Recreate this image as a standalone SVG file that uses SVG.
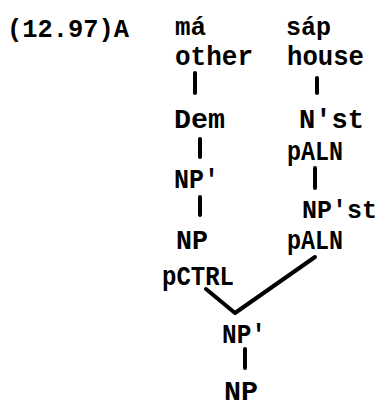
<svg xmlns="http://www.w3.org/2000/svg" width="384" height="407" viewBox="0 0 384 407">
<style>
text{font-family:"Liberation Mono","DejaVu Sans Mono",monospace;font-weight:bold;font-size:28px;fill:#000}
.t{font-size:26px}
.s{font-size:25px}
.c{stroke:#000;stroke-width:4;fill:none;stroke-linecap:round;stroke-linejoin:round}
</style>
<rect width="384" height="407" fill="#fff"/>
<g id="title"><text class="t" x="7" y="37" textLength="122" lengthAdjust="spacingAndGlyphs">(12.97)A</text></g>
<g id="ma"><text class="s" x="175" y="35" textLength="31" lengthAdjust="spacingAndGlyphs">má</text></g>
<g id="sap"><text class="s" x="286" y="35" textLength="45" lengthAdjust="spacingAndGlyphs">sáp</text></g>
<g id="other"><text x="175" y="65" textLength="78" lengthAdjust="spacingAndGlyphs">other</text></g>
<g id="house"><text x="287" y="65" textLength="77" lengthAdjust="spacingAndGlyphs">house</text></g>
<g id="dem"><text x="174" y="128" textLength="51" lengthAdjust="spacingAndGlyphs">Dem</text></g>
<g id="nst"><text x="299" y="128" textLength="65" lengthAdjust="spacingAndGlyphs">N'st</text></g>
<g id="paln1"><text x="287" y="160" textLength="56" lengthAdjust="spacingAndGlyphs">pALN</text></g>
<g id="npbar1"><text x="174" y="188" textLength="45" lengthAdjust="spacingAndGlyphs">NP'</text></g>
<g id="npst"><text class="s" x="302" y="218" textLength="75" lengthAdjust="spacingAndGlyphs">NP'st</text></g>
<g id="np1"><text x="176" y="249" textLength="32" lengthAdjust="spacingAndGlyphs">NP</text></g>
<g id="paln2"><text x="287" y="249" textLength="56" lengthAdjust="spacingAndGlyphs">pALN</text></g>
<g id="pctrl"><text x="162" y="285" textLength="72" lengthAdjust="spacingAndGlyphs">pCTRL</text></g>
<g id="npbar2"><text x="222" y="343" textLength="44" lengthAdjust="spacingAndGlyphs">NP'</text></g>
<g id="np2"><text x="224" y="400" textLength="34" lengthAdjust="spacingAndGlyphs">NP</text></g>
<g id="connectors">
<path class="c" d="M195 73V93"/>
<path class="c" d="M317 78V93"/>
<path class="c" d="M200 139V157"/>
<path class="c" d="M315 168V188"/>
<path class="c" d="M200 197V215"/>
<path class="c" d="M206 289L235 313L315 257"/>
<path class="c" d="M245 349V368"/>
</g>
</svg>
